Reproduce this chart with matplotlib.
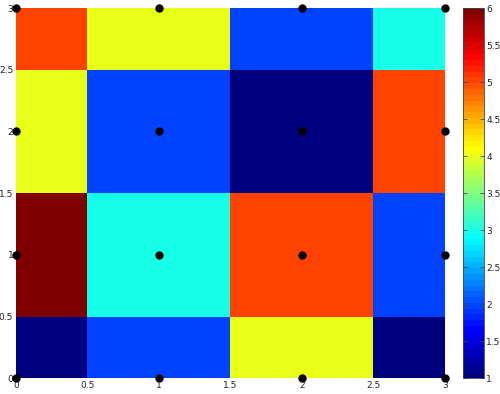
import numpy as np
import matplotlib
matplotlib.use('Agg')
import matplotlib.pyplot as plt
from matplotlib.colors import LinearSegmentedColormap

xs = [0, 1, 2, 3]
ys = [0, 1, 2, 3]
# rows from y=0 (bottom) up to y=3
vals = [
    [1, 2, 4, 1],
    [6, 3, 5, 2],
    [4, 2, 1, 5],
    [5, 4, 2, 3],
]
xticks = [0, 0.5, 1, 1.5, 2, 2.5, 3]
cticks = [1, 1.5, 2, 2.5, 3, 3.5, 4, 4.5, 5, 5.5, 6]

# matlab style jet
mjet = LinearSegmentedColormap('mjet', {
    'red':   [(0, 0, 0), (0.375, 0, 0), (0.625, 1, 1), (0.875, 1, 1), (1, 0.5, 0.5)],
    'green': [(0, 0, 0), (0.125, 0, 0), (0.375, 1, 1), (0.625, 1, 1), (0.875, 0, 0), (1, 0, 0)],
    'blue':  [(0, 0.5, 0.5), (0.125, 1, 1), (0.375, 1, 1), (0.625, 0, 0), (1, 0, 0)],
}, N=64)

fig = plt.figure(figsize=(5, 3.94), dpi=100)
ax = fig.add_axes([0.032, 0.0406, 0.858, 0.939])
cax = fig.add_axes([0.926, 0.0406, 0.042, 0.939])

im = ax.imshow(np.array(vals), origin='lower', cmap=mjet, vmin=1, vmax=6,
               extent=[-0.5, 3.5, -0.5, 3.5], interpolation='nearest', aspect='auto')
ax.set_xlim(0, 3)
ax.set_ylim(0, 3)
gx, gy = np.meshgrid(xs, ys)
ax.plot(gx.ravel(), gy.ravel(), 'o', color='k', markersize=5, clip_on=False, zorder=5)
ax.set_xticks(xticks)
ax.set_yticks(xticks)
ax.set_xticklabels(['%g' % t for t in xticks])
ax.set_yticklabels(['%g' % t for t in xticks])
ax.tick_params(direction='in', labelsize=6.5, pad=2, length=0, labelcolor='#222222')
for s in ax.spines.values():
    s.set_visible(False)

cb = fig.colorbar(im, cax=cax, ticks=cticks)
cb.ax.set_yticklabels(['%g' % t for t in cticks])
cb.ax.tick_params(direction='in', labelsize=6.5, length=3, left=True, right=True, pad=1.5,
                  color='#444444', width=0.6, labelcolor='#222222')
cb.outline.set_linewidth(0.6)
cb.outline.set_edgecolor('#444444')

fig.savefig('out.png', dpi=100)
